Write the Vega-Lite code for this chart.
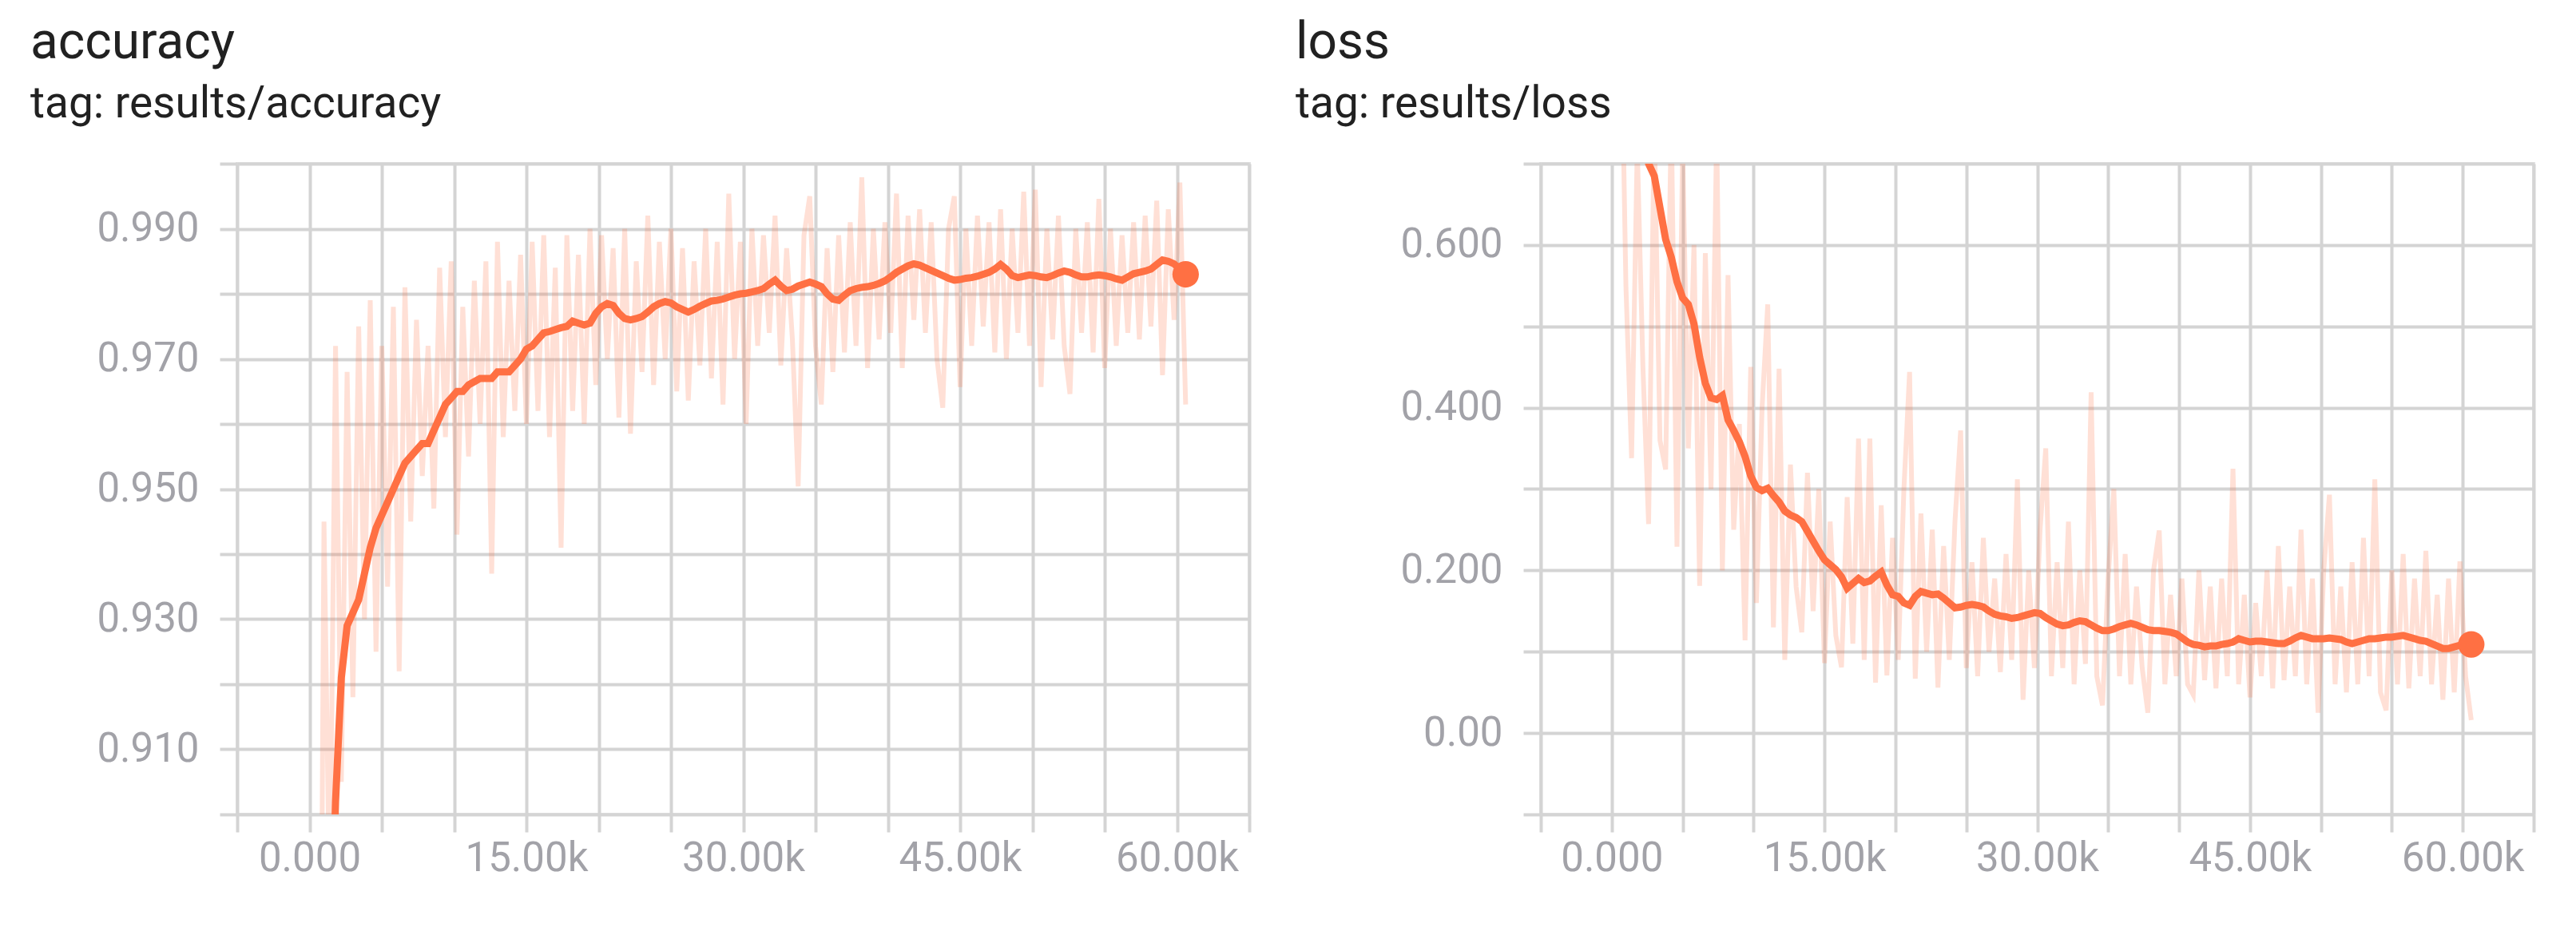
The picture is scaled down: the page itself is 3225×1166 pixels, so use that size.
{
  "$schema": "https://vega.github.io/schema/vega-lite/v6.json",
  "background": "white",
  "padding": {"left": 36, "top": 20, "right": 20, "bottom": 20},
  "bounds": "flush",
  "spacing": 365,
  "config": {
    "font": "Roboto",
    "view": {"stroke": "#e0e0e0", "strokeWidth": 4},
    "axis": {
      "grid": true, "gridColor": "#d4d4d4", "gridWidth": 4,
      "domain": false,
      "tickColor": "#d4d4d4", "tickWidth": 4, "tickSize": 22,
      "labelColor": "#a2a2a8", "labelFontSize": 51, "labelFont": "Roboto",
      "labelPadding": 26, "labelOverlap": false, "labelFlush": false, "labelBound": false
    },
    "title": {
      "anchor": "start", "frame": "group", "font": "Roboto", "fontSize": 64, "fontWeight": "normal", "color": "#212121",
      "subtitleFont": "Roboto", "subtitleFontSize": 55, "subtitleColor": "#212121", "subtitlePadding": 18, "offset": 21
    }
  },
  "datasets": {
    "runs": [
      {"step": 600, "acc": 0.80, "acc_smooth": 0.70, "loss": 0.95, "loss_smooth": 0.95},
      {"step": 1000, "acc": 0.945, "acc_smooth": 0.80, "loss": 0.55, "loss_smooth": 0.88},
      {"step": 1400, "acc": 0.885, "acc_smooth": 0.87, "loss": 0.338, "loss_smooth": 0.82},
      {"step": 1800, "acc": 0.972, "acc_smooth": 0.902, "loss": 0.72, "loss_smooth": 0.77},
      {"step": 2200, "acc": 0.905, "acc_smooth": 0.921, "loss": 0.45, "loss_smooth": 0.73},
      {"step": 2600, "acc": 0.968, "acc_smooth": 0.929, "loss": 0.257, "loss_smooth": 0.70},
      {"step": 3000, "acc": 0.918, "acc_smooth": 0.931, "loss": 0.75, "loss_smooth": 0.685},
      {"step": 3400, "acc": 0.975, "acc_smooth": 0.933, "loss": 0.36, "loss_smooth": 0.646},
      {"step": 3800, "acc": 0.93, "acc_smooth": 0.937, "loss": 0.324, "loss_smooth": 0.607},
      {"step": 4200, "acc": 0.979, "acc_smooth": 0.941, "loss": 0.76, "loss_smooth": 0.585},
      {"step": 4600, "acc": 0.925, "acc_smooth": 0.944, "loss": 0.229, "loss_smooth": 0.555},
      {"step": 5000, "acc": 0.972, "acc_smooth": 0.946, "loss": 0.72, "loss_smooth": 0.535},
      {"step": 5400, "acc": 0.935, "acc_smooth": 0.948, "loss": 0.35, "loss_smooth": 0.527},
      {"step": 5800, "acc": 0.978, "acc_smooth": 0.950, "loss": 0.6, "loss_smooth": 0.503},
      {"step": 6200, "acc": 0.922, "acc_smooth": 0.952, "loss": 0.181, "loss_smooth": 0.462},
      {"step": 6600, "acc": 0.981, "acc_smooth": 0.954, "loss": 0.59, "loss_smooth": 0.43},
      {"step": 7000, "acc": 0.945, "acc_smooth": 0.955, "loss": 0.3, "loss_smooth": 0.412},
      {"step": 7400, "acc": 0.976, "acc_smooth": 0.956, "loss": 0.74, "loss_smooth": 0.41},
      {"step": 7800, "acc": 0.952, "acc_smooth": 0.957, "loss": 0.2, "loss_smooth": 0.415},
      {"step": 8200, "acc": 0.972, "acc_smooth": 0.957, "loss": 0.563, "loss_smooth": 0.385},
      {"step": 8600, "acc": 0.947, "acc_smooth": 0.959, "loss": 0.25, "loss_smooth": 0.372},
      {"step": 9000, "acc": 0.984, "acc_smooth": 0.961, "loss": 0.38, "loss_smooth": 0.358},
      {"step": 9400, "acc": 0.958, "acc_smooth": 0.963, "loss": 0.114, "loss_smooth": 0.34},
      {"step": 9800, "acc": 0.985, "acc_smooth": 0.964, "loss": 0.45, "loss_smooth": 0.316},
      {"step": 10200, "acc": 0.943, "acc_smooth": 0.965, "loss": 0.16, "loss_smooth": 0.302},
      {"step": 10600, "acc": 0.978, "acc_smooth": 0.965, "loss": 0.4, "loss_smooth": 0.298},
      {"step": 11000, "acc": 0.955, "acc_smooth": 0.966, "loss": 0.527, "loss_smooth": 0.301},
      {"step": 11400, "acc": 0.982, "acc_smooth": 0.9665, "loss": 0.13, "loss_smooth": 0.292},
      {"step": 11800, "acc": 0.96, "acc_smooth": 0.967, "loss": 0.448, "loss_smooth": 0.284},
      {"step": 12200, "acc": 0.985, "acc_smooth": 0.967, "loss": 0.09, "loss_smooth": 0.273},
      {"step": 12600, "acc": 0.937, "acc_smooth": 0.967, "loss": 0.33, "loss_smooth": 0.268},
      {"step": 13000, "acc": 0.988, "acc_smooth": 0.968, "loss": 0.18, "loss_smooth": 0.265},
      {"step": 13400, "acc": 0.958, "acc_smooth": 0.968, "loss": 0.124, "loss_smooth": 0.26},
      {"step": 13800, "acc": 0.982, "acc_smooth": 0.968, "loss": 0.32, "loss_smooth": 0.248},
      {"step": 14200, "acc": 0.962, "acc_smooth": 0.969, "loss": 0.15, "loss_smooth": 0.236},
      {"step": 14600, "acc": 0.986, "acc_smooth": 0.970, "loss": 0.3, "loss_smooth": 0.224},
      {"step": 15000, "acc": 0.96, "acc_smooth": 0.9715, "loss": 0.086, "loss_smooth": 0.213},
      {"step": 15400, "acc": 0.988, "acc_smooth": 0.972, "loss": 0.26, "loss_smooth": 0.207},
      {"step": 15800, "acc": 0.962, "acc_smooth": 0.973, "loss": 0.12, "loss_smooth": 0.201},
      {"step": 16200, "acc": 0.989, "acc_smooth": 0.974, "loss": 0.081, "loss_smooth": 0.192},
      {"step": 16600, "acc": 0.958, "acc_smooth": 0.9742, "loss": 0.29, "loss_smooth": 0.178},
      {"step": 17000, "acc": 0.984, "acc_smooth": 0.9745, "loss": 0.11, "loss_smooth": 0.184},
      {"step": 17400, "acc": 0.941, "acc_smooth": 0.9748, "loss": 0.362, "loss_smooth": 0.19},
      {"step": 17800, "acc": 0.989, "acc_smooth": 0.975, "loss": 0.09, "loss_smooth": 0.185},
      {"step": 18200, "acc": 0.962, "acc_smooth": 0.9758, "loss": 0.362, "loss_smooth": 0.187},
      {"step": 18600, "acc": 0.986, "acc_smooth": 0.9755, "loss": 0.062, "loss_smooth": 0.193},
      {"step": 19000, "acc": 0.96, "acc_smooth": 0.9752, "loss": 0.28, "loss_smooth": 0.198},
      {"step": 19400, "acc": 0.99, "acc_smooth": 0.9755, "loss": 0.071, "loss_smooth": 0.182},
      {"step": 19800, "acc": 0.966, "acc_smooth": 0.977, "loss": 0.24, "loss_smooth": 0.17},
      {"step": 20200, "acc": 0.989, "acc_smooth": 0.978, "loss": 0.09, "loss_smooth": 0.168},
      {"step": 20600, "acc": 0.97, "acc_smooth": 0.9785, "loss": 0.3, "loss_smooth": 0.16},
      {"step": 21000, "acc": 0.987, "acc_smooth": 0.9782, "loss": 0.444, "loss_smooth": 0.157},
      {"step": 21400, "acc": 0.961, "acc_smooth": 0.977, "loss": 0.067, "loss_smooth": 0.168},
      {"step": 21800, "acc": 0.99, "acc_smooth": 0.9762, "loss": 0.27, "loss_smooth": 0.174},
      {"step": 22200, "acc": 0.9585, "acc_smooth": 0.976, "loss": 0.1, "loss_smooth": 0.172},
      {"step": 22600, "acc": 0.985, "acc_smooth": 0.9762, "loss": 0.25, "loss_smooth": 0.17},
      {"step": 23000, "acc": 0.968, "acc_smooth": 0.9765, "loss": 0.056, "loss_smooth": 0.171},
      {"step": 23400, "acc": 0.992, "acc_smooth": 0.9772, "loss": 0.23, "loss_smooth": 0.166},
      {"step": 23800, "acc": 0.966, "acc_smooth": 0.978, "loss": 0.09, "loss_smooth": 0.16},
      {"step": 24200, "acc": 0.988, "acc_smooth": 0.9785, "loss": 0.26, "loss_smooth": 0.154},
      {"step": 24600, "acc": 0.97, "acc_smooth": 0.9788, "loss": 0.372, "loss_smooth": 0.155},
      {"step": 25000, "acc": 0.99, "acc_smooth": 0.9786, "loss": 0.08, "loss_smooth": 0.157},
      {"step": 25400, "acc": 0.965, "acc_smooth": 0.978, "loss": 0.21, "loss_smooth": 0.158},
      {"step": 25800, "acc": 0.987, "acc_smooth": 0.9776, "loss": 0.07, "loss_smooth": 0.157},
      {"step": 26200, "acc": 0.9636, "acc_smooth": 0.9772, "loss": 0.24, "loss_smooth": 0.155},
      {"step": 26600, "acc": 0.985, "acc_smooth": 0.9776, "loss": 0.1, "loss_smooth": 0.15},
      {"step": 27000, "acc": 0.969, "acc_smooth": 0.9781, "loss": 0.19, "loss_smooth": 0.146},
      {"step": 27400, "acc": 0.99, "acc_smooth": 0.9785, "loss": 0.075, "loss_smooth": 0.144},
      {"step": 27800, "acc": 0.967, "acc_smooth": 0.9789, "loss": 0.22, "loss_smooth": 0.143},
      {"step": 28200, "acc": 0.988, "acc_smooth": 0.979, "loss": 0.09, "loss_smooth": 0.141},
      {"step": 28600, "acc": 0.963, "acc_smooth": 0.9792, "loss": 0.312, "loss_smooth": 0.142},
      {"step": 29000, "acc": 0.9954, "acc_smooth": 0.9795, "loss": 0.041, "loss_smooth": 0.144},
      {"step": 29400, "acc": 0.97, "acc_smooth": 0.9798, "loss": 0.2, "loss_smooth": 0.146},
      {"step": 29800, "acc": 0.988, "acc_smooth": 0.98, "loss": 0.08, "loss_smooth": 0.148},
      {"step": 30200, "acc": 0.96, "acc_smooth": 0.9801, "loss": 0.25, "loss_smooth": 0.147},
      {"step": 30600, "acc": 0.99, "acc_smooth": 0.9803, "loss": 0.35, "loss_smooth": 0.142},
      {"step": 31000, "acc": 0.972, "acc_smooth": 0.9805, "loss": 0.07, "loss_smooth": 0.138},
      {"step": 31400, "acc": 0.989, "acc_smooth": 0.9808, "loss": 0.21, "loss_smooth": 0.134},
      {"step": 31800, "acc": 0.974, "acc_smooth": 0.9815, "loss": 0.08, "loss_smooth": 0.132},
      {"step": 32200, "acc": 0.992, "acc_smooth": 0.9821, "loss": 0.26, "loss_smooth": 0.133},
      {"step": 32600, "acc": 0.969, "acc_smooth": 0.9812, "loss": 0.06, "loss_smooth": 0.136},
      {"step": 33000, "acc": 0.987, "acc_smooth": 0.9805, "loss": 0.2, "loss_smooth": 0.138},
      {"step": 33400, "acc": 0.973, "acc_smooth": 0.9807, "loss": 0.085, "loss_smooth": 0.137},
      {"step": 33800, "acc": 0.9504, "acc_smooth": 0.9812, "loss": 0.419, "loss_smooth": 0.133},
      {"step": 34200, "acc": 0.989, "acc_smooth": 0.9815, "loss": 0.07, "loss_smooth": 0.129},
      {"step": 34600, "acc": 0.995, "acc_smooth": 0.9818, "loss": 0.034, "loss_smooth": 0.126},
      {"step": 35000, "acc": 0.972, "acc_smooth": 0.9815, "loss": 0.19, "loss_smooth": 0.126},
      {"step": 35400, "acc": 0.963, "acc_smooth": 0.9811, "loss": 0.3, "loss_smooth": 0.128},
      {"step": 35800, "acc": 0.987, "acc_smooth": 0.98, "loss": 0.07, "loss_smooth": 0.131},
      {"step": 36200, "acc": 0.968, "acc_smooth": 0.9792, "loss": 0.22, "loss_smooth": 0.133},
      {"step": 36600, "acc": 0.989, "acc_smooth": 0.979, "loss": 0.06, "loss_smooth": 0.135},
      {"step": 37000, "acc": 0.971, "acc_smooth": 0.9798, "loss": 0.18, "loss_smooth": 0.133},
      {"step": 37400, "acc": 0.991, "acc_smooth": 0.9805, "loss": 0.08, "loss_smooth": 0.13},
      {"step": 37800, "acc": 0.972, "acc_smooth": 0.9808, "loss": 0.025, "loss_smooth": 0.127},
      {"step": 38200, "acc": 0.9979, "acc_smooth": 0.981, "loss": 0.2, "loss_smooth": 0.126},
      {"step": 38600, "acc": 0.9686, "acc_smooth": 0.9811, "loss": 0.249, "loss_smooth": 0.126},
      {"step": 39000, "acc": 0.99, "acc_smooth": 0.9813, "loss": 0.06, "loss_smooth": 0.125},
      {"step": 39400, "acc": 0.973, "acc_smooth": 0.9816, "loss": 0.17, "loss_smooth": 0.124},
      {"step": 39800, "acc": 0.991, "acc_smooth": 0.982, "loss": 0.07, "loss_smooth": 0.122},
      {"step": 40200, "acc": 0.974, "acc_smooth": 0.9826, "loss": 0.19, "loss_smooth": 0.117},
      {"step": 40600, "acc": 0.9954, "acc_smooth": 0.9833, "loss": 0.06, "loss_smooth": 0.112},
      {"step": 41000, "acc": 0.9686, "acc_smooth": 0.9838, "loss": 0.047, "loss_smooth": 0.109},
      {"step": 41400, "acc": 0.992, "acc_smooth": 0.9843, "loss": 0.2, "loss_smooth": 0.108},
      {"step": 41800, "acc": 0.976, "acc_smooth": 0.9846, "loss": 0.065, "loss_smooth": 0.106},
      {"step": 42200, "acc": 0.993, "acc_smooth": 0.9844, "loss": 0.18, "loss_smooth": 0.107},
      {"step": 42600, "acc": 0.974, "acc_smooth": 0.984, "loss": 0.055, "loss_smooth": 0.107},
      {"step": 43000, "acc": 0.991, "acc_smooth": 0.9836, "loss": 0.19, "loss_smooth": 0.109},
      {"step": 43400, "acc": 0.97, "acc_smooth": 0.9832, "loss": 0.07, "loss_smooth": 0.11},
      {"step": 43800, "acc": 0.9625, "acc_smooth": 0.9828, "loss": 0.325, "loss_smooth": 0.112},
      {"step": 44200, "acc": 0.99, "acc_smooth": 0.9824, "loss": 0.06, "loss_smooth": 0.116},
      {"step": 44600, "acc": 0.995, "acc_smooth": 0.9821, "loss": 0.17, "loss_smooth": 0.114},
      {"step": 45000, "acc": 0.9657, "acc_smooth": 0.9822, "loss": 0.044, "loss_smooth": 0.112},
      {"step": 45400, "acc": 0.99, "acc_smooth": 0.9824, "loss": 0.16, "loss_smooth": 0.113},
      {"step": 45800, "acc": 0.972, "acc_smooth": 0.9825, "loss": 0.07, "loss_smooth": 0.113},
      {"step": 46200, "acc": 0.992, "acc_smooth": 0.9827, "loss": 0.2, "loss_smooth": 0.112},
      {"step": 46600, "acc": 0.975, "acc_smooth": 0.983, "loss": 0.055, "loss_smooth": 0.111},
      {"step": 47000, "acc": 0.991, "acc_smooth": 0.9833, "loss": 0.23, "loss_smooth": 0.11},
      {"step": 47400, "acc": 0.971, "acc_smooth": 0.9838, "loss": 0.065, "loss_smooth": 0.11},
      {"step": 47800, "acc": 0.993, "acc_smooth": 0.9845, "loss": 0.18, "loss_smooth": 0.113},
      {"step": 48200, "acc": 0.97, "acc_smooth": 0.9838, "loss": 0.07, "loss_smooth": 0.117},
      {"step": 48600, "acc": 0.99, "acc_smooth": 0.9828, "loss": 0.25, "loss_smooth": 0.12},
      {"step": 49000, "acc": 0.974, "acc_smooth": 0.9825, "loss": 0.06, "loss_smooth": 0.118},
      {"step": 49400, "acc": 0.9957, "acc_smooth": 0.9827, "loss": 0.19, "loss_smooth": 0.116},
      {"step": 49800, "acc": 0.972, "acc_smooth": 0.9829, "loss": 0.025, "loss_smooth": 0.116},
      {"step": 50200, "acc": 0.996, "acc_smooth": 0.9828, "loss": 0.2, "loss_smooth": 0.116},
      {"step": 50600, "acc": 0.9657, "acc_smooth": 0.9826, "loss": 0.293, "loss_smooth": 0.117},
      {"step": 51000, "acc": 0.99, "acc_smooth": 0.9825, "loss": 0.06, "loss_smooth": 0.116},
      {"step": 51400, "acc": 0.973, "acc_smooth": 0.9828, "loss": 0.18, "loss_smooth": 0.115},
      {"step": 51800, "acc": 0.992, "acc_smooth": 0.9832, "loss": 0.05, "loss_smooth": 0.112},
      {"step": 52200, "acc": 0.972, "acc_smooth": 0.9835, "loss": 0.21, "loss_smooth": 0.11},
      {"step": 52600, "acc": 0.9646, "acc_smooth": 0.9833, "loss": 0.06, "loss_smooth": 0.112},
      {"step": 53000, "acc": 0.99, "acc_smooth": 0.9829, "loss": 0.24, "loss_smooth": 0.114},
      {"step": 53400, "acc": 0.974, "acc_smooth": 0.9826, "loss": 0.07, "loss_smooth": 0.116},
      {"step": 53800, "acc": 0.991, "acc_smooth": 0.9826, "loss": 0.312, "loss_smooth": 0.116},
      {"step": 54200, "acc": 0.971, "acc_smooth": 0.9828, "loss": 0.05, "loss_smooth": 0.117},
      {"step": 54600, "acc": 0.9946, "acc_smooth": 0.9829, "loss": 0.028, "loss_smooth": 0.118},
      {"step": 55000, "acc": 0.9686, "acc_smooth": 0.9828, "loss": 0.2, "loss_smooth": 0.118},
      {"step": 55400, "acc": 0.99, "acc_smooth": 0.9826, "loss": 0.06, "loss_smooth": 0.119},
      {"step": 55800, "acc": 0.972, "acc_smooth": 0.9823, "loss": 0.22, "loss_smooth": 0.12},
      {"step": 56200, "acc": 0.989, "acc_smooth": 0.9821, "loss": 0.055, "loss_smooth": 0.118},
      {"step": 56600, "acc": 0.974, "acc_smooth": 0.9826, "loss": 0.19, "loss_smooth": 0.116},
      {"step": 57000, "acc": 0.991, "acc_smooth": 0.9831, "loss": 0.07, "loss_smooth": 0.114},
      {"step": 57400, "acc": 0.973, "acc_smooth": 0.9833, "loss": 0.224, "loss_smooth": 0.113},
      {"step": 57800, "acc": 0.992, "acc_smooth": 0.9835, "loss": 0.06, "loss_smooth": 0.11},
      {"step": 58200, "acc": 0.975, "acc_smooth": 0.9838, "loss": 0.17, "loss_smooth": 0.107},
      {"step": 58600, "acc": 0.9943, "acc_smooth": 0.9845, "loss": 0.041, "loss_smooth": 0.104},
      {"step": 59000, "acc": 0.9675, "acc_smooth": 0.9852, "loss": 0.19, "loss_smooth": 0.104},
      {"step": 59400, "acc": 0.993, "acc_smooth": 0.985, "loss": 0.05, "loss_smooth": 0.106},
      {"step": 59800, "acc": 0.976, "acc_smooth": 0.9846, "loss": 0.211, "loss_smooth": 0.108},
      {"step": 60200, "acc": 0.9971, "acc_smooth": 0.9838, "loss": 0.07, "loss_smooth": 0.109},
      {"step": 60600, "acc": 0.963, "acc_smooth": 0.983, "loss": 0.016, "loss_smooth": 0.109}
    ],
    "origin": [{}]
  },
  "data": {"name": "runs"},
  "hconcat": [
    {
      "width": 1267,
      "height": 815,
      "title": {"text": "accuracy", "subtitle": "tag: results/accuracy", "dx": -259},
      "encoding": {
        "x": {
          "field": "step", "type": "quantitative", "title": null,
          "scale": {"domain": [-5000, 65000], "nice": false, "zero": false},
          "axis": {
            "values": [-5000, 0, 5000, 10000, 15000, 20000, 25000, 30000, 35000, 40000, 45000, 50000, 55000, 60000, 65000],
            "labelExpr": "datum.value == 0 ? '0.000' : ((datum.value > 0 && datum.value % 15000 == 0) ? format(datum.value / 1000, '.2f') + 'k' : '')",
            "labelPadding": 8
          }
        }
      },
      "layer": [
        {
          "data": {"name": "origin"},
          "mark": {"type": "rule", "color": "#8e8e8e", "strokeWidth": 5},
          "encoding": {"x": {"datum": 0}}
        },
        {
          "mark": {"type": "line", "color": "#ff7043", "opacity": 0.22, "strokeWidth": 6, "clip": true},
          "encoding": {
            "y": {
              "field": "acc", "type": "quantitative", "title": null,
              "scale": {"domain": [0.9, 1.0], "nice": false, "zero": false},
              "axis": {
                "values": [0.9, 0.91, 0.92, 0.93, 0.94, 0.95, 0.96, 0.97, 0.98, 0.99, 1.0],
                "labelExpr": "round(datum.value * 100) % 2 == 1 ? format(datum.value, '.3f') : ''"
              }
            }
          }
        },
        {
          "mark": {"type": "line", "color": "#ff7043", "strokeWidth": 9, "clip": true},
          "encoding": {"y": {"field": "acc_smooth", "type": "quantitative"}}
        },
        {
          "transform": [{"filter": "datum.step == 60600"}],
          "mark": {"type": "point", "filled": true, "color": "#ff7043", "opacity": 1, "size": 1100},
          "encoding": {"y": {"field": "acc_smooth", "type": "quantitative"}}
        }
      ]
    },
    {
      "width": 1243,
      "height": 815,
      "title": {"text": "loss", "subtitle": "tag: results/loss", "dx": -307},
      "encoding": {
        "x": {
          "field": "step", "type": "quantitative", "title": null,
          "scale": {"domain": [-5000, 65000], "nice": false, "zero": false},
          "axis": {
            "values": [-5000, 0, 5000, 10000, 15000, 20000, 25000, 30000, 35000, 40000, 45000, 50000, 55000, 60000, 65000],
            "labelExpr": "datum.value == 0 ? '0.000' : ((datum.value > 0 && datum.value % 15000 == 0) ? format(datum.value / 1000, '.2f') + 'k' : '')",
            "labelPadding": 8
          }
        }
      },
      "layer": [
        {
          "data": {"name": "origin"},
          "mark": {"type": "rule", "color": "#8e8e8e", "strokeWidth": 5},
          "encoding": {"x": {"datum": 0}}
        },
        {
          "data": {"name": "origin"},
          "mark": {"type": "rule", "color": "#8e8e8e", "strokeWidth": 5},
          "encoding": {"y": {"datum": 0}}
        },
        {
          "mark": {"type": "line", "color": "#ff7043", "opacity": 0.22, "strokeWidth": 6, "clip": true},
          "encoding": {
            "y": {
              "field": "loss", "type": "quantitative", "title": null,
              "scale": {"domain": [-0.1, 0.7], "nice": false, "zero": false},
              "axis": {
                "values": [-0.1, 0, 0.1, 0.2, 0.3, 0.4, 0.5, 0.6, 0.7],
                "labelExpr": "datum.value == 0 ? '0.00' : ((datum.value > 0 && round(datum.value * 10) % 2 == 0) ? format(datum.value, '.3f') : '')"
              }
            }
          }
        },
        {
          "mark": {"type": "line", "color": "#ff7043", "strokeWidth": 9, "clip": true},
          "encoding": {"y": {"field": "loss_smooth", "type": "quantitative"}}
        },
        {
          "transform": [{"filter": "datum.step == 60600"}],
          "mark": {"type": "point", "filled": true, "color": "#ff7043", "opacity": 1, "size": 1100},
          "encoding": {"y": {"field": "loss_smooth", "type": "quantitative"}}
        }
      ]
    }
  ]
}
